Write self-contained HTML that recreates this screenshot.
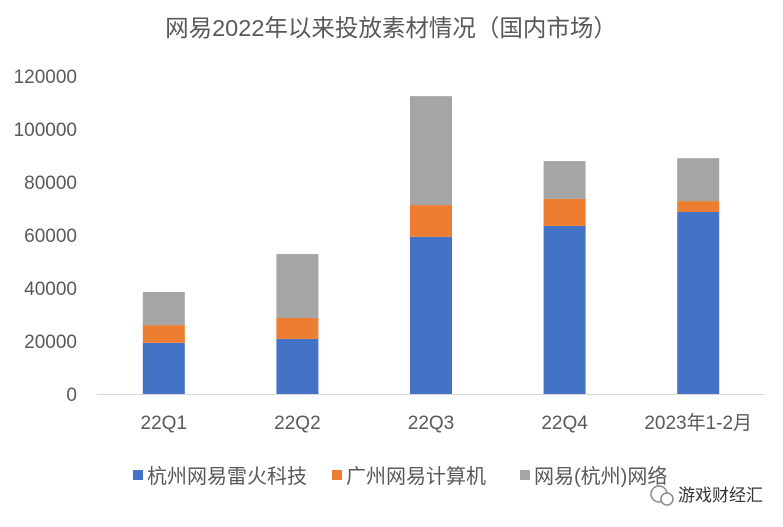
<!DOCTYPE html>
<html><head><meta charset="utf-8"><style>
body{margin:0;background:#fff;}
svg{display:block;font-family:"Liberation Sans","Noto Sans CJK SC",sans-serif;}
</style></head><body>
<svg id="chart" width="783" height="527" viewBox="0 0 783 527">
<text x="391" y="36" text-anchor="middle" font-size="23.5" fill="#595959">网易2022年以来投放素材情况（国内市场）</text>
<g id="yaxis"></g>
<g id="bars"></g>
<line x1="97" y1="394.5" x2="765" y2="394.5" stroke="#d9d9d9" stroke-width="1"/>
<g id="xlabels"></g>
<g id="legend"></g>
<g>
<circle cx="659" cy="494" r="8" fill="none" stroke="#888" stroke-width="1.5"/>
<circle cx="667" cy="499" r="6" fill="#fff" stroke="#888" stroke-width="1.5"/>
<text x="678" y="501" font-size="17" fill="#333">游戏财经汇</text>
</g>
</svg>
<script>
const categories=["22Q1","22Q2","22Q3","22Q4","2023年1-2月"];
const seriesNames=["杭州网易雷火科技","广州网易计算机","网易(杭州)网络"];
const seriesColors=["#4472c4","#ed7d31","#a5a5a5"];
const leihuo=[19300,20800,59300,63400,68700];
const guangzhou=[6700,7900,12000,10200,4100];
const hangzhou=[12500,24100,41100,14300,16200];
const yTicks=[0,20000,40000,60000,80000,100000,120000];
const series=[leihuo,guangzhou,hangzhou];
const NS="http://www.w3.org/2000/svg";
const x0=97,x1=765,y0=394,yTop=76,yMax=120000;
const y=v=>y0-v/yMax*(y0-yTop);
const band=(x1-x0)/categories.length;
const xc=i=>x0+band*(i+0.5);
function mk(tag,attrs,parent){const e=document.createElementNS(NS,tag);for(const k in attrs)e.setAttribute(k,attrs[k]);parent.appendChild(e);return e;}
const ya=document.getElementById('yaxis');
yTicks.forEach(t=>{const e=mk('text',{x:77,y:y(t)+7,'text-anchor':'end','font-size':19,fill:'#595959'},ya);


e.textContent=t;});
const bg=document.getElementById('bars');
categories.forEach((c,i)=>{let base=0;
series.forEach((s,j)=>{const top=base+s[i];
const r=mk('rect',{x:xc(i)-21,y:y(top),width:42,height:y(base)-y(top),fill:seriesColors[j]},bg);


base=top;});
const t=mk('text',{x:xc(i),y:429,'text-anchor':'middle','font-size':19,fill:'#595959'},document.getElementById('xlabels'));


t.textContent=c;});
const lg=document.getElementById('legend');
const lx=[133,332,520];
seriesNames.forEach((n,j)=>{const g=mk('g',{},lg);


mk('rect',{x:lx[j],y:470,width:10,height:10,fill:seriesColors[j]},g);
const t=mk('text',{x:lx[j]+14,y:483,'font-size':20,fill:'#595959'},g);t.textContent=n;});
</script>
</body></html>
